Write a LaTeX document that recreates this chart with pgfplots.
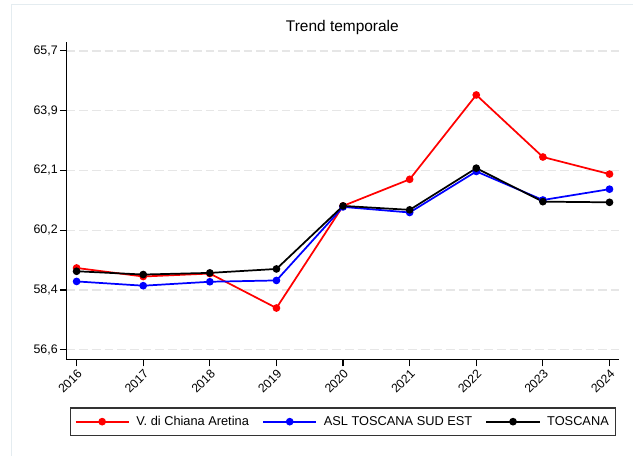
\documentclass[border=0pt]{standalone}
\usepackage{fontspec}
\setmainfont{Liberation Sans}
\usepackage{pgfplots}
\pgfplotsset{compat=1.18}
\definecolor{framegray}{HTML}{E4ECF0}
\definecolor{gridgray}{HTML}{E6E6E6}
\definecolor{legframe}{HTML}{333333}

% valori (anni 2016-2024)
\pgfplotstableread{
anno valore
2016 59.09
2017 58.83
2018 58.92
2019 57.87
2020 60.98
2021 61.79
2022 64.36
2023 62.47
2024 61.95
}\chiana
\pgfplotstableread{
anno valore
2016 58.68
2017 58.55
2018 58.67
2019 58.71
2020 60.95
2021 60.78
2022 62.03
2023 61.16
2024 61.49
}\asl
\pgfplotstableread{
anno valore
2016 58.99
2017 58.89
2018 58.94
2019 59.06
2020 60.98
2021 60.86
2022 62.13
2023 61.11
2024 61.09
}\toscana

\begin{document}
\begin{tikzpicture}
\fill[white] (0pt,0pt) rectangle (475.5pt,342pt);
\draw[framegray,line width=0.8pt] (8.6pt,0pt) -- (8.6pt,338.8pt) -- (475.5pt,338.8pt);
\begin{axis}[
    at={(50pt,72pt)}, anchor=south west,
    scale only axis,
    width=415pt, height=238.5pt,
    xmin=2015.85, xmax=2024.15,
    ymin=56.296, ymax=65.974,
    axis x line*=bottom, axis y line*=left,
    axis line style={line width=0.8pt},
    tick align=outside,
    major tick length=5pt,
    tick style={line width=0.8pt, black},
    xtick={2016,...,2024},
    xticklabels={2016,2017,2018,2019,2020,2021,2022,2023,2024},
    xticklabel style={rotate=45, anchor=north east, font=\fontsize{9.2}{10}\selectfont, inner sep=1pt},
    ytick={56.6,58.42,60.24,62.06,63.88,65.7},
    yticklabels={{56,6},{58,4},{60,2},{62,1},{63,9},{65,7}},
    yticklabel style={font=\fontsize{9.3}{10}\selectfont, inner sep=1.5pt},
    ymajorgrids,
    grid style={gridgray, line width=1pt, dash pattern=on 6.5pt off 3pt},
    every axis plot/.append style={line width=1.3pt, mark=*, mark size=2.2pt},
    legend columns=3,
    legend style={at={(0.5,-0.195)}, anchor=center, draw=legframe, line width=0.8pt,
        font=\fontsize{9.6}{10}\selectfont, inner xsep=3pt, inner ysep=4pt,
        /tikz/every odd column/.append style={column sep=3pt},
        /tikz/every even column/.append style={column sep=8pt}},
    legend image code/.code={\draw[mark repeat=2, mark phase=2, #1]
        plot coordinates {(0pt,0pt) (20pt,0pt) (40pt,0pt)};},
]
\addplot[red, mark options={fill=red}] table[x=anno, y=valore] {\chiana};
\addlegendentry{V. di Chiana Aretina}
\addplot[blue, mark options={fill=blue}] table[x=anno, y=valore] {\asl};
\addlegendentry{ASL TOSCANA SUD EST}
\addplot[black, mark options={fill=black}] table[x=anno, y=valore] {\toscana};
\addlegendentry{TOSCANA}
\end{axis}
\node[font=\fontsize{11.6}{13}\selectfont] at (257pt,321pt) {Trend temporale};
\end{tikzpicture}
\end{document}
